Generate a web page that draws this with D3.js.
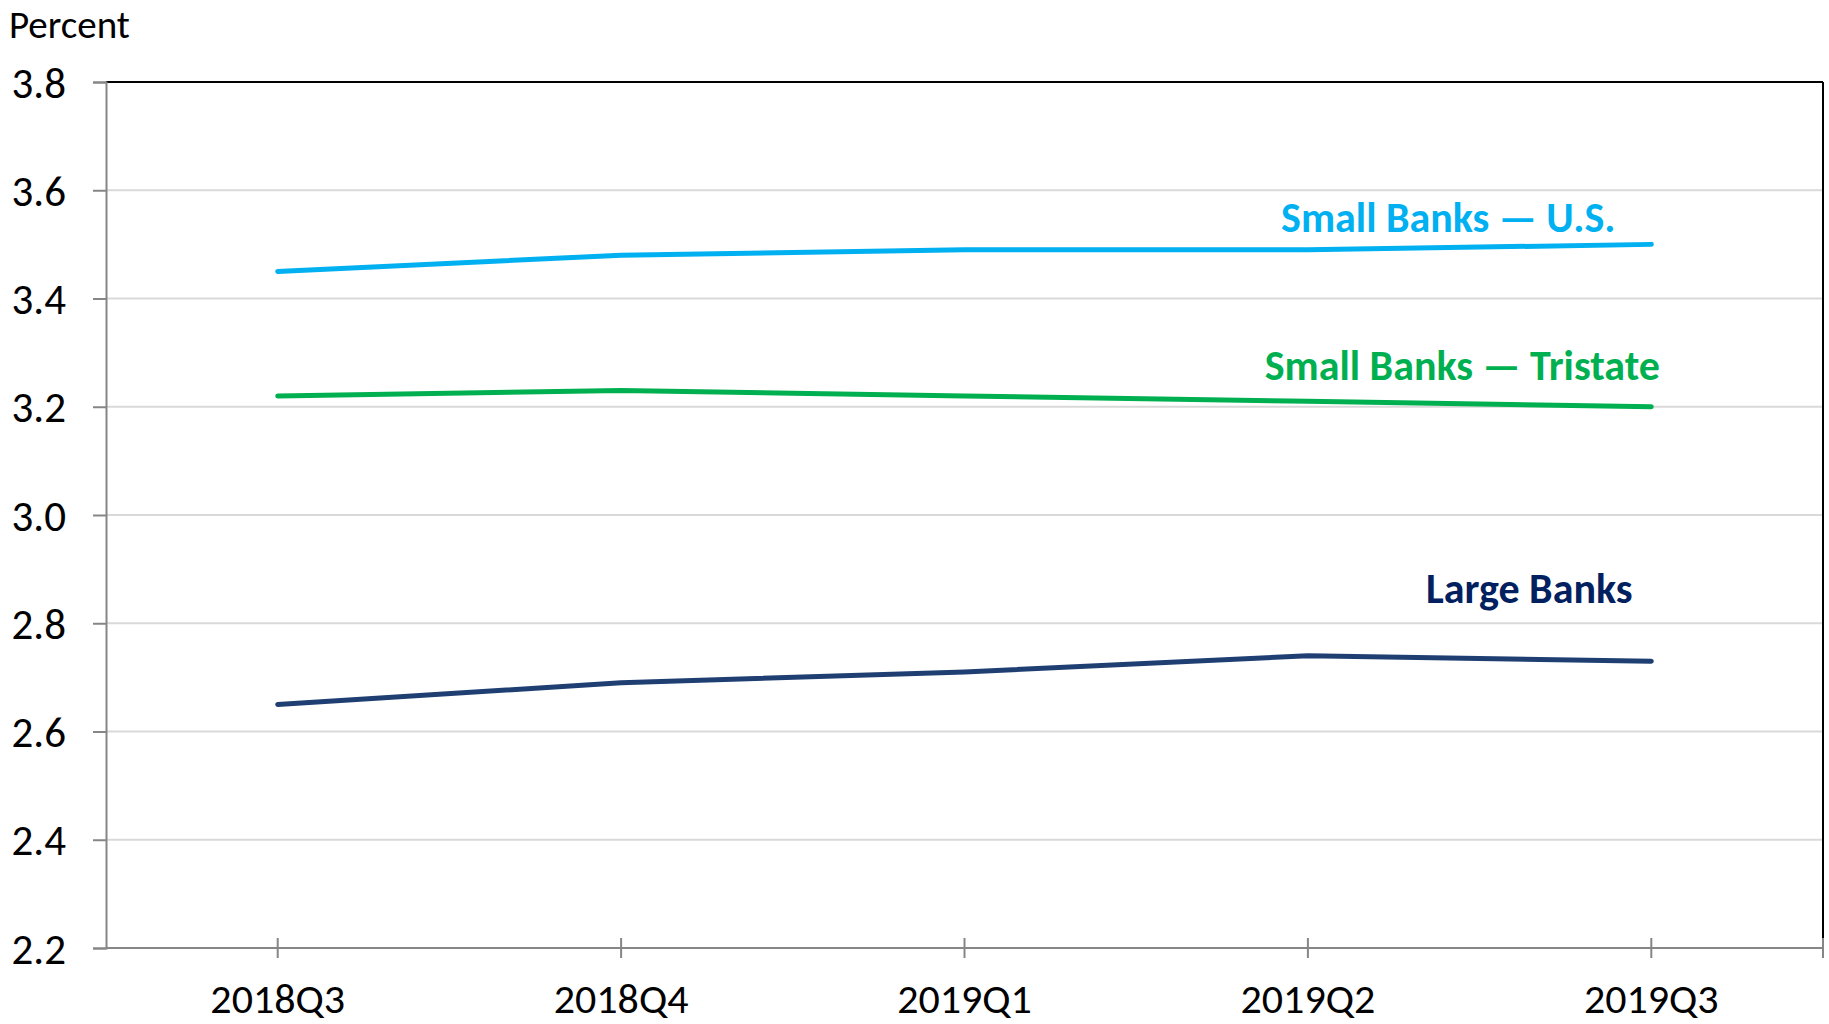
<!DOCTYPE html>
<html><head><meta charset="utf-8">
<script src="https://cdn.jsdelivr.net/npm/d3@7"></script>
<style>
body{margin:0;background:#fff;}
text{font-family:Carlito, Lato, sans-serif;}
</style></head>
<body><svg id="c" width="1829" height="1024"></svg>
<script>
const categories = ["2018Q3","2018Q4","2019Q1","2019Q2","2019Q3"];
const smallUS = [3.45, 3.48, 3.49, 3.49, 3.50];
const smallTristate = [3.22, 3.23, 3.22, 3.21, 3.20];
const largeBanks = [2.65, 2.69, 2.71, 2.74, 2.73];
const yTicks = [2.2, 2.4, 2.6, 2.8, 3.0, 3.2, 3.4, 3.6, 3.8];

const series = [
  {name:"Small Banks \u2014 U.S.", values: smallUS, color:"#00B0F0", label:"#00B0F0", dx:-203, dy:-12},
  {name:"Small Banks \u2014 Tristate", values: smallTristate, color:"#00B050", label:"#00B050", dx:-189, dy:-27},
  {name:"Large Banks", values: largeBanks, color:"#1F3F73", label:"#002060", dx:-122, dy:-58}
];

const svg = d3.select("#c");
const L=106, R=1823, T=82, B=948;
const x = d3.scaleBand().domain(categories).range([L,R]);
const y = d3.scaleLinear().domain([2.2,3.8]).range([B,T]);
const cx = c => x(c)+x.bandwidth()/2;

// gridlines
svg.append("g").selectAll("line").data(yTicks.filter(v=>v>2.2 && v<3.8)).join("line")
  .attr("x1",L).attr("x2",R).attr("y1",d=>y(d)).attr("y2",d=>y(d))
  .attr("stroke","#D9D9D9").attr("stroke-width",2);

// top and right border
svg.append("line").attr("x1",L).attr("x2",R).attr("y1",T).attr("y2",T).attr("stroke","#000").attr("stroke-width",2);
svg.append("line").attr("x1",R).attr("x2",R).attr("y1",T).attr("y2",B).attr("stroke","#000").attr("stroke-width",2);

// y axis
const yAxis = d3.axisLeft(y).tickValues(yTicks).tickFormat(d3.format(".1f")).tickSize(13).tickPadding(27);
const gy = svg.append("g").attr("transform",`translate(${L},0)`).call(yAxis);
gy.select(".domain").attr("stroke","#868686").attr("stroke-width",2);
gy.selectAll(".tick line").attr("stroke","#868686").attr("stroke-width",2);
gy.selectAll(".tick text").attr("font-size",43).attr("fill","#000").attr("font-family","Carlito, Lato, sans-serif").attr("dy","0.35em");

// x axis
const gx = svg.append("g").attr("transform",`translate(0,${B})`);
gx.append("line").attr("x1",L).attr("x2",R).attr("stroke","#868686").attr("stroke-width",2);
const tickXs = categories.map(cx).concat([R]);
gx.selectAll("line.t").data(tickXs).join("line").attr("class","t")
  .attr("x1",d=>d).attr("x2",d=>d).attr("y1",-10).attr("y2",10)
  .attr("stroke","#868686").attr("stroke-width",2);
gx.selectAll("text").data(categories).join("text")
  .attr("x",d=>cx(d)).attr("y",65).attr("text-anchor","middle")
  .attr("font-size",42).attr("fill","#000").text(d=>d);

// title
svg.append("text").attr("x",9).attr("y",38).attr("font-size",39).attr("fill","#000").text("Percent");

// lines
const line = d3.line().x((d,i)=>cx(categories[i])).y(d=>y(d));
series.forEach(s=>{
  svg.append("path").attr("d",line(s.values)).attr("fill","none")
    .attr("stroke",s.color).attr("stroke-width",5).attr("stroke-linecap","round").attr("stroke-linejoin","round");
  const lx = cx(categories[categories.length-1]), ly = y(s.values[s.values.length-1]);
  svg.append("text").attr("x",lx+s.dx).attr("y",ly+s.dy).attr("text-anchor","middle")
    .attr("font-size",42).attr("font-weight","bold").attr("fill",s.label).text(s.name);
});
</script></body></html>
